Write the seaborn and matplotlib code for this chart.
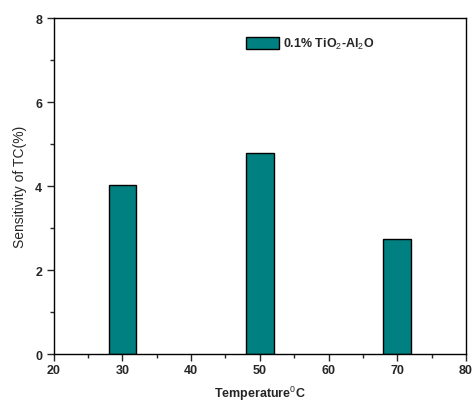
import matplotlib
matplotlib.use("Agg")
import matplotlib.pyplot as plt
import seaborn as sns
import pandas as pd
from matplotlib.ticker import MultipleLocator

temperatures = [30, 50, 70]
sensitivity = [4.03, 4.80, 2.75]
series_label = "0.1% TiO$_2$-Al$_2$O"

sns.set_style("ticks")
plt.rcParams['font.family'] = ['Liberation Sans', 'DejaVu Sans']
plt.rcParams['mathtext.fontset'] = 'custom'
plt.rcParams['mathtext.rm'] = 'Liberation Sans'
plt.rcParams['mathtext.bf'] = 'Liberation Sans:bold'

df = pd.DataFrame({"Temperature": temperatures, "Sensitivity": sensitivity})

fig = plt.figure(figsize=(4.72, 4.06), dpi=100)
ax = fig.add_axes([0.114, 0.1256, 0.873, 0.827])
sns.barplot(data=df, x="Temperature", y="Sensitivity", native_scale=True,
            width=0.2, color="#008080", edgecolor="black", linewidth=1.0,
            saturation=1, label=series_label, ax=ax)

ax.set_xlim(20, 80)
ax.set_ylim(0, 8)
ax.xaxis.set_major_locator(MultipleLocator(10))
ax.xaxis.set_minor_locator(MultipleLocator(5))
ax.yaxis.set_major_locator(MultipleLocator(2))
ax.yaxis.set_minor_locator(MultipleLocator(1))
ax.tick_params(which='major', direction='out', length=5, width=1, labelsize=9)
ax.tick_params(axis='x', which='major', pad=2)
ax.tick_params(which='minor', direction='out', length=3, width=1)
for lab in ax.get_xticklabels() + ax.get_yticklabels():
    lab.set_fontweight('bold')
for s in ax.spines.values():
    s.set_linewidth(1.0)
    s.set_color('black')
    s.set_visible(True)

ax.set_xlabel("Temperature$^{0}$C", fontsize=9, fontweight='bold', labelpad=6)
ax.set_ylabel("Sensitivity of TC(%)", fontsize=10, labelpad=6)

leg = ax.legend(loc='upper left', bbox_to_anchor=(0.44, 0.98), frameon=False,
                handlelength=2.6, handleheight=1.0, handletextpad=0.3,
                prop={'weight': 'bold', 'size': 9})

fig.savefig("out.png", dpi=100)
